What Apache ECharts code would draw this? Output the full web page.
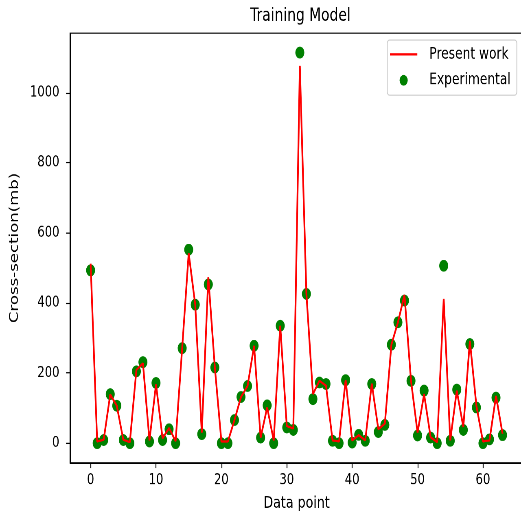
<!DOCTYPE html>
<html>
<head>
<meta charset="utf-8">
<script src="https://cdn.jsdelivr.net/npm/echarts@6/dist/echarts.min.js"></script>
<style>
  html, body { margin: 0; padding: 0; background: #fff; }
  #wrap { width: 521px; height: 512px; overflow: hidden; position: relative; }
  #chart { width: 640px; height: 480px; transform: scale(0.8141, 1.0667); transform-origin: 0 0; }
</style>
</head>
<body>
<div id="wrap"><div id="chart"></div></div>
<script>
const titleText = 'Training Model';
const xName = 'Data point';
const yName = 'Cross-section(mb)';
const seriesNames = ['Present work', 'Experimental'];
const xTicks = [0, 10, 20, 30, 40, 50, 60];
const yTicks = [0, 200, 400, 600, 800, 1000];

const presentWork = [512, 5, 10, 139, 107, 10, 3, 209, 228, 8, 168, 14, 43, 6, 271, 542,
  395, 30, 474, 216, 5, 5, 66, 132, 163, 278, 16, 102, 8, 335, 49, 42,
  1076, 426, 140, 178, 164, 8, 5, 180, 8, 23, 8, 170, 40, 56, 281, 345,
  423, 178, 30, 140, 17, 3, 412, 8, 150, 46, 292, 107, 5, 8, 135, 27];

const experimental = [493, 0, 9, 140, 107, 9, 0, 205, 231, 5, 172, 9, 40, 0, 271, 552,
  395, 26, 453, 216, 0, 0, 66, 132, 163, 278, 16, 108, 0, 335, 45, 38,
  1114, 426, 126, 173, 169, 7, 0, 180, 2, 24, 7, 169, 32, 52, 281, 345,
  407, 178, 22, 150, 16, 0, 506, 7, 153, 38, 283, 102, 0, 11, 130, 23];

const FONT = 'DejaVu Sans';
const tickFont = 14.2;
const labelFont = 15.5;
const legendFont = 15;

const chart = echarts.init(document.getElementById('chart'), null, { renderer: 'canvas', devicePixelRatio: 2 });

const option = {
  animation: false,
  backgroundColor: '#fff',
  title: {
    text: titleText,
    left: 364,
    top: 1.5,
    textAlign: 'center',
    textStyle: { fontFamily: FONT, fontSize: 17, fontWeight: 'normal', color: '#000' }
  },
  legend: {
    orient: 'vertical',
    left: 475.7,
    top: 37.5,
    padding: [5.9, 7.5, 6.5, 3.3],
    itemWidth: 33.6,
    itemHeight: 10,
    itemGap: 9.4,
    backgroundColor: 'rgba(255,255,255,0.8)',
    borderColor: '#cccccc',
    borderWidth: 1,
    borderRadius: 3,
    textStyle: { fontFamily: FONT, fontSize: legendFont, color: '#000', padding: [0, 0, 0, 9.7] },
    data: [
      { name: seriesNames[0], icon: 'path://M0,0H336V21H0Z', itemStyle: { color: '#ff0000' } },
      { name: seriesNames[1], icon: 'circle' }
    ]
  },
  grid: {
    left: 86,
    top: 31,
    width: 556.6,
    height: 402.8,
    containLabel: false,
    outerBoundsMode: 'none',
    show: true,
    borderColor: '#000',
    borderWidth: 1.1,
    backgroundColor: 'transparent'
  },
  xAxis: {
    type: 'value',
    min: -3.15,
    max: 66.15,
    name: xName,
    nameLocation: 'middle',
    nameGap: 30.3,
    nameTextStyle: { fontFamily: FONT, fontSize: labelFont, color: '#000' },
    axisLine: { show: true, onZero: false, lineStyle: { color: '#000', width: 1.1 } },
    axisTick: { show: true, length: 4.9, lineStyle: { color: '#000', width: 1.1 }, customValues: xTicks },
    axisLabel: { fontFamily: FONT, fontSize: tickFont, color: '#000', margin: 9.5, customValues: xTicks,
      formatter: v => String(v) },
    splitLine: { show: false }
  },
  yAxis: {
    type: 'value',
    min: -55.7,
    max: 1169.7,
    name: yName,
    nameLocation: 'middle',
    nameRotate: 90,
    nameGap: 50.5,
    nameTextStyle: { fontFamily: FONT, fontSize: labelFont, color: '#000' },
    axisLine: { show: true, onZero: false, lineStyle: { color: '#000', width: 1.1 } },
    axisTick: { show: true, length: 4.9, lineStyle: { color: '#000', width: 1.1 }, customValues: yTicks },
    axisLabel: { fontFamily: FONT, fontSize: tickFont, color: '#000', margin: 13, customValues: yTicks,
      formatter: v => String(v) },
    splitLine: { show: false }
  },
  series: [
    {
      name: seriesNames[1],
      type: 'scatter',
      z: 2,
      symbol: 'circle',
      symbolSize: 11,
      itemStyle: { color: '#008000', opacity: 1 },
      data: experimental.map((v, i) => [i, v])
    },
    {
      name: seriesNames[0],
      type: 'line',
      z: 3,
      symbol: 'none',
      showSymbol: false,
      lineStyle: { color: '#ff0000', width: 2.1 },
      itemStyle: { color: '#ff0000' },
      data: presentWork.map((v, i) => [i, v])
    }
  ]
};
chart.setOption(option);
</script>
</body>
</html>
